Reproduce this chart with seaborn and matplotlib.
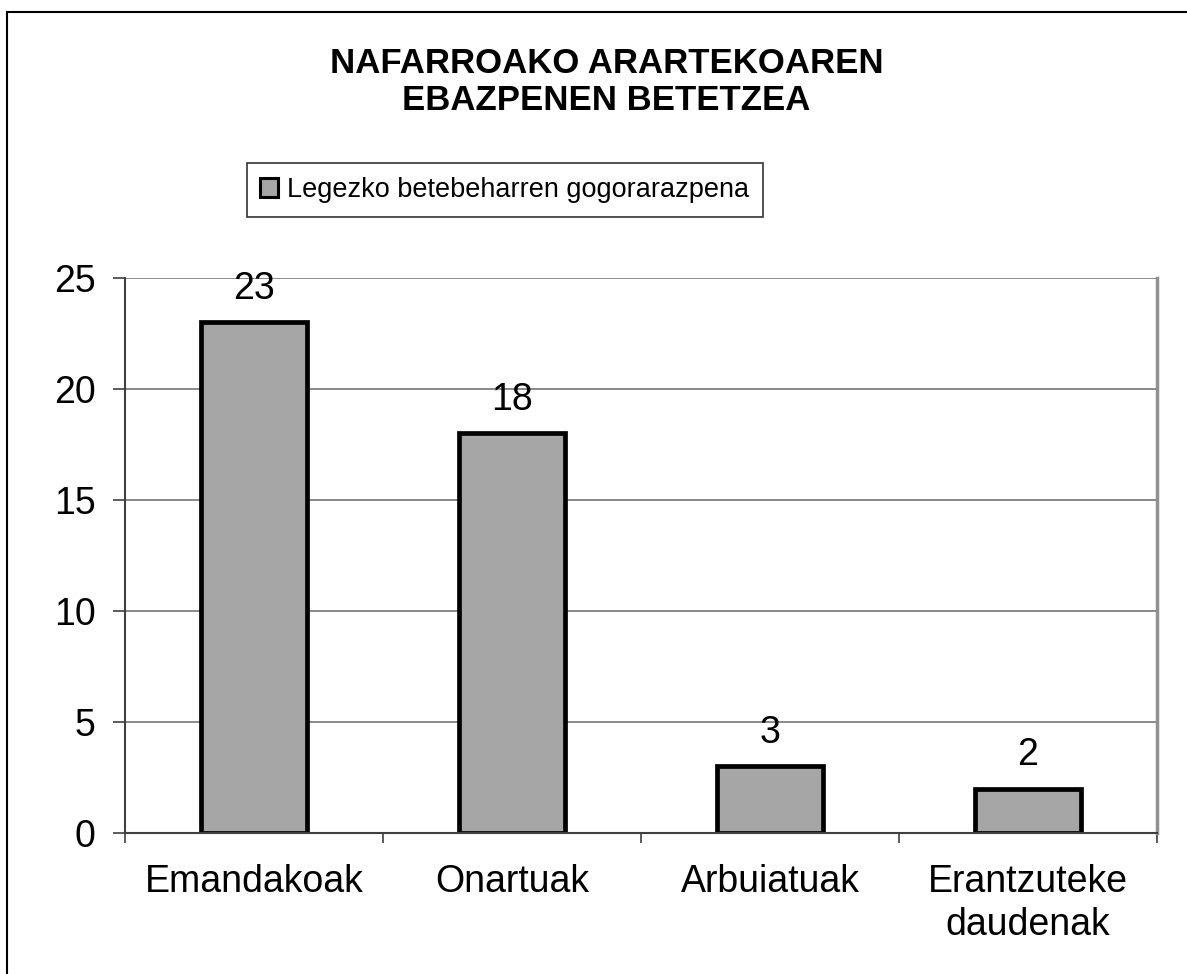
import matplotlib
matplotlib.use("Agg")
import matplotlib.pyplot as plt
import seaborn as sns
import pandas as pd
from matplotlib.patches import Patch, Rectangle

categories = ["Emandakoak", "Onartuak", "Arbuiatuak", "Erantzuteke\ndaudenak"]
values = [23, 18, 3, 2]
series_name = "Legezko betebeharren gogorarazpena"
title = "NAFARROAKO ARARTEKOAREN\nEBAZPENEN BETETZEA"
yticks = [0, 5, 10, 15, 20, 25]

sns.set_theme(style="white")
plt.rcParams['font.family'] = ['Liberation Sans', 'DejaVu Sans']
plt.rcParams['text.color'] = 'black'

W, H = 1187, 974
fig = plt.figure(figsize=(W / 100, H / 100), dpi=100)
fig.patch.set_facecolor("white")

ax = fig.add_axes([125 / W, 1 - 833 / H, (1157 - 125) / W, (833 - 278) / H])

df = pd.DataFrame({"cat": categories, "val": values})
bar_color = "#A6A6A6"
sns.barplot(data=df, x="cat", y="val", color=bar_color, edgecolor="black",
            linewidth=3.4, width=0.41, saturation=1, ax=ax)

ax.set_xlim(-0.5, len(categories) - 0.5)
ax.set_ylim(0, 25)
ax.set_yticks(yticks)
ax.set_yticklabels([str(t) for t in yticks])
ax.set_xlabel("")
ax.set_ylabel("")

# gridlines
ax.yaxis.grid(True, color="#808080", linewidth=1.3)
ax.set_axisbelow(True)

# ticks
ax.tick_params(axis="y", which="major", direction="out", length=9, width=1.2,
               color="#404040", labelsize=27, pad=12, left=True)
ax.tick_params(axis="x", which="major", length=0, labelsize=27, pad=22)
ax.set_xticks([i - 0.5 for i in range(len(categories) + 1)], minor=True)
ax.tick_params(axis="x", which="minor", direction="out", length=7, width=1.2,
               color="#404040", bottom=True)
for lab in ax.get_xticklabels() + ax.get_yticklabels():
    lab.set_color("black")
    lab.set_linespacing(1.25)

# spines
ax.spines["top"].set_visible(False)
ax.spines["left"].set_color("#404040")
ax.spines["left"].set_linewidth(1.5)
ax.spines["bottom"].set_color("#404040")
ax.spines["bottom"].set_linewidth(1.5)
ax.spines["right"].set_color("#909090")
ax.spines["right"].set_linewidth(2.5)

# value labels
for cont in ax.containers:
    ax.bar_label(cont, labels=[str(v) for v in values], padding=11,
                 fontsize=27, color="black")

# title
fig.text(0.511, 1 - 82 / H, title, ha="center", va="center",
         fontsize=25, fontweight="bold", multialignment="center",
         linespacing=1.15, color="black")

# legend
handle = Patch(facecolor=bar_color, edgecolor="black", linewidth=2.2)
leg = fig.legend(handles=[handle], labels=[series_name], loc="center",
                 bbox_to_anchor=(505 / W, 1 - 190 / H), fontsize=19.5,
                 frameon=True, fancybox=False, shadow=False,
                 handlelength=0.65, handleheight=0.65, handletextpad=0.35,
                 borderpad=0.5, borderaxespad=0, labelcolor="black")
leg.get_frame().set_edgecolor("black")
leg.get_frame().set_linewidth(1.2)

# outer border (left and top visible)
border = Rectangle((7 / W, -0.1), 1.2, (H - 12) / H + 0.1, transform=fig.transFigure,
                   fill=False, edgecolor="black", linewidth=1.5, clip_on=False)
fig.patches.append(border)

fig.savefig("out.png", dpi=100)
